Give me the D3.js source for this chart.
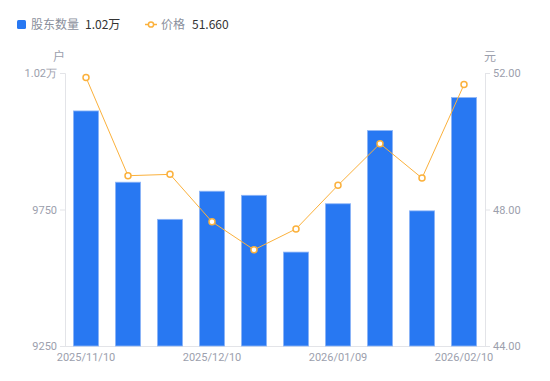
<!DOCTYPE html>
<html><head><meta charset="utf-8">
<script src="https://cdn.jsdelivr.net/npm/d3@7/dist/d3.min.js"></script>
<style>body{margin:0;background:#fff;font-family:"Noto Sans CJK SC","Noto Sans",sans-serif;}</style>
</head><body><svg id="c" width="550" height="381"></svg>
<script>
const dates = ["2025/11/10","2025/11/20","2025/11/28","2025/12/10","2025/12/19","2025/12/31","2026/01/09","2026/01/20","2026/01/30","2026/02/10"];
const holders = [10111, 9850, 9714, 9817, 9802, 9594, 9771, 10039, 9745, 10160];
const prices = [51.87, 48.99, 49.03, 47.64, 46.82, 47.43, 48.71, 49.93, 48.92, 51.66];
const leftTicks = [9250, 9750, 10250];
const rightTicks = [44, 48, 52];
const xTickLabels = ["2025/11/10","2025/12/10","2026/01/09","2026/02/10"];

const svg = d3.select("#c");
const L = 65, R = 485, T = 73, B = 346;
const gray = "#9ca0ad", axisC = "#e3e4e8";
const blue = "#2878f2", orange = "#fbb13c";

const x = d3.scaleBand().domain(dates).range([L, R]).paddingInner(0.4).paddingOuter(0.2);
const yL = d3.scaleLinear().domain([9250, 10250]).range([B, T]);
const yR = d3.scaleLinear().domain([44, 52]).range([B, T]);

const fmtL = v => v >= 10000 ? (v/10000).toFixed(2) + "万" : String(v);

const gl = svg.append("g").attr("transform", `translate(${L},0)`)
  .call(d3.axisLeft(yL).tickValues(leftTicks).tickFormat(fmtL).tickSize(5).tickPadding(3));
const gr = svg.append("g").attr("transform", `translate(${R},0)`)
  .call(d3.axisRight(yR).tickValues(rightTicks).tickFormat(d => d.toFixed(2)).tickSize(5).tickPadding(3));
const gb = svg.append("g").attr("transform", `translate(0,${B})`)
  .call(d3.axisBottom(x).tickValues(xTickLabels).tickSize(0).tickPadding(7));
[gl, gr, gb].forEach(g => {
  g.select(".domain").attr("stroke", axisC);
  g.selectAll(".tick line").attr("stroke", axisC);
  g.selectAll("text").attr("fill", gray).style("font-size", "11px").style("font-family", "Roboto, 'Noto Sans', sans-serif");
});
gb.select(".domain").attr("d", `M${L},0.5H${R}`);

svg.append("text").attr("x", 59).attr("y", 61).attr("text-anchor", "middle").attr("fill", gray).style("font-size", "12px").text("户");
svg.append("text").attr("x", 490).attr("y", 61).attr("text-anchor", "middle").attr("fill", gray).style("font-size", "12px").text("元");

svg.append("g").selectAll("rect").data(dates).join("rect")
  .attr("x", d => x(d)).attr("width", x.bandwidth())
  .attr("y", (d, i) => yL(holders[i])).attr("height", (d, i) => B - yL(holders[i]))
  .attr("fill", blue).attr("stroke", "#8fb6f7").attr("stroke-width", 0.8);

const line = d3.line().x((d, i) => x(dates[i]) + x.bandwidth()/2).y(d => yR(d));
svg.append("path").datum(prices).attr("d", line).attr("fill", "none").attr("stroke", orange).attr("stroke-width", 1);
svg.append("g").selectAll("circle").data(prices).join("circle")
  .attr("cx", (d, i) => x(dates[i]) + x.bandwidth()/2).attr("cy", d => yR(d))
  .attr("r", 3).attr("fill", "#fff").attr("stroke", orange).attr("stroke-width", 1.5);

// legend
const lg = svg.append("g").style("font-size", "12px");
lg.append("rect").attr("x", 17).attr("y", 20).attr("width", 9).attr("height", 9).attr("rx", 1.5).attr("fill", blue);
lg.append("text").attr("x", 31).attr("y", 29).attr("fill", "#8a8f9c").text("股东数量");
lg.append("text").attr("x", 85).attr("y", 29).attr("fill", "#333").text(fmtL(holders[holders.length-1]));
lg.append("line").attr("x1", 145).attr("x2", 157).attr("y1", 24.5).attr("y2", 24.5).attr("stroke", orange).attr("stroke-width", 1.5);
lg.append("circle").attr("cx", 151).attr("cy", 24.5).attr("r", 2.6).attr("fill", "#fff").attr("stroke", orange).attr("stroke-width", 1.5);
lg.append("text").attr("x", 161).attr("y", 29).attr("fill", "#8a8f9c").text("价格");
lg.append("text").attr("x", 192).attr("y", 29).attr("fill", "#333").text(prices[prices.length-1].toFixed(3));
</script></body></html>
